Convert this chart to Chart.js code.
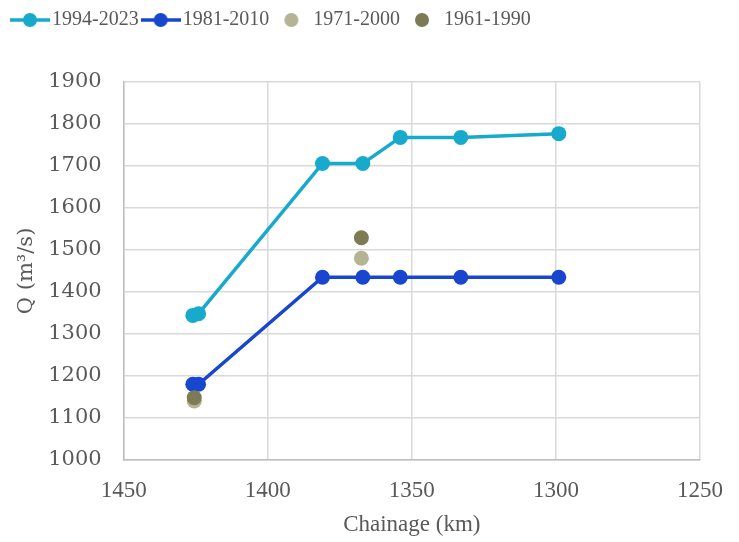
<!DOCTYPE html>
<html>
<head>
<meta charset="utf-8">
<script src="https://cdn.jsdelivr.net/npm/chart.js@4.4.1/dist/chart.umd.min.js"></script>
<style>
  html, body { margin: 0; padding: 0; background: #fff; }
  #wrap { width: 739px; height: 542px; }
</style>
</head>
<body>
<div id="wrap"><canvas id="chart"></canvas></div>
<script>
// series data (chainage km, discharge m3/s)
const seriesNames = ['1994-2023', '1981-2010', '1971-2000', '1961-1990']
const seriesColors = ['#17aacd', '#1846cf', '#b4b393', '#7c7b55']

const chain9423 = [1426, 1424, 1381, 1367, 1354, 1333, 1299]
const q9423 = [1344, 1348, 1706, 1706, 1768, 1768, 1777]

const chain8110 = [1426, 1424, 1381, 1367, 1354, 1333, 1299]
const q8110 = [1180, 1180, 1435, 1435, 1435, 1435, 1435]

const chain7100 = [1425.5, 1367.5]
const q7100 = [1140, 1480]

const chain6190 = [1425.5, 1367.5]
const q6190 = [1148, 1529]

const xTicks = [1450, 1400, 1350, 1300, 1250]
const yTicks = [1000, 1100, 1200, 1300, 1400, 1500, 1600, 1700, 1800, 1900]

const pts = (xs, ys) => xs.map((x, i) => ({ x: x, y: ys[i] }))

// legend icons: line + marker, or marker only
const legendIcon = (color, withLine) => {
  const c = document.createElement('canvas')
  c.width = 40
  c.height = 16
  const g = c.getContext('2d')
  if (withLine) {
    g.strokeStyle = color
    g.lineWidth = 3.5
    g.beginPath()
    g.moveTo(0, 8)
    g.lineTo(40, 8)
    g.stroke()
  }
  g.fillStyle = color
  g.beginPath()
  g.arc(20, 8, 7, 0, Math.PI * 2)
  g.fill()
  return c
}

const makeSet = (i, xs, ys, withLine) => ({
  label: seriesNames[i],
  data: pts(xs, ys),
  showLine: withLine,
  borderColor: seriesColors[i],
  backgroundColor: seriesColors[i],
  borderWidth: 3.5,
  pointRadius: 7.5,
  pointHoverRadius: 7.5,
  pointBorderWidth: 0,
  pointStyle: 'circle',
  order: 3 - i,
})

const gridColor = '#d9d9d9'
const textColor = '#595959'

// push the plot down below the legend
const legendGap = {
  id: 'legendGap',
  beforeInit (chart) {
    const fit = chart.legend.fit
    chart.legend.fit = function () {
      fit.bind(chart.legend)()
      this.height += 42
    }
  },
}

// edge labels may hang outside the plot; tick padding is only counted once
const tightFit = (axis) => {
  axis.paddingLeft = 0
  axis.paddingRight = 0
  axis.paddingTop = 0
  axis.paddingBottom = 0
  const pad = axis.options.ticks.padding
  if (axis.isHorizontal()) axis.height -= pad
  else axis.width -= pad
}

// eslint-disable-next-line no-unused-vars
const chart = new Chart(document.getElementById('chart'), {
  type: 'scatter',
  data: {
    datasets: [
      makeSet(0, chain9423, q9423, true),
      makeSet(1, chain8110, q8110, true),
      makeSet(2, chain7100, q7100, false),
      makeSet(3, chain6190, q6190, false),
    ],
  },
  plugins: [legendGap],
  options: {
    responsive: true,
    maintainAspectRatio: false,
    animation: false,
    layout: { padding: { top: 0, right: 39, bottom: 0, left: 8 } },
    plugins: {
      tooltip: { enabled: false },
      legend: {
        position: 'top',
        align: 'start',
        labels: {
          usePointStyle: true,
          pointStyleWidth: 24,
          padding: 10,
          color: textColor,
          font: { family: 'Liberation Serif', size: 20 },
          sort: (a, b) => a.datasetIndex - b.datasetIndex,
          generateLabels: (ch) => ch.data.datasets.map((ds, i) => ({
            text: ds.label,
            datasetIndex: i,
            fontColor: textColor,
            pointStyle: legendIcon(seriesColors[i], ds.showLine),
            lineWidth: 0,
            strokeStyle: 'transparent',
            fillStyle: seriesColors[i],
          })),
        },
      },
    },
    scales: {
      x: {
        type: 'linear',
        reverse: true,
        min: 1250,
        max: 1450,
        afterBuildTicks: (axis) => { axis.ticks = xTicks.map((v) => ({ value: v })) },
        afterFit: tightFit,
        grid: { color: gridColor, lineWidth: 1.5, drawTicks: false },
        border: { color: '#bfbfbf', width: 1.5 },
        ticks: {
          color: textColor,
          padding: 17,
          font: { family: 'Liberation Serif', size: 23 },
          callback: (v) => String(v),
        },
        title: {
          display: true,
          text: 'Chainage (km)',
          color: textColor,
          padding: { top: 7, bottom: 3 },
          font: { family: 'Liberation Serif', size: 23 },
        },
      },
      y: {
        min: 1000,
        max: 1900,
        afterBuildTicks: (axis) => { axis.ticks = yTicks.map((v) => ({ value: v })) },
        afterFit: tightFit,
        grid: { color: gridColor, lineWidth: 1.5, drawTicks: false },
        border: { color: '#bfbfbf', width: 1.5 },
        ticks: {
          color: textColor,
          padding: 22,
          font: { family: 'DejaVu Serif', size: 21 },
          callback: (v) => String(v),
        },
        title: {
          display: true,
          text: 'Q (m\u00b3/s)',
          color: textColor,
          padding: { top: 6, bottom: 9 },
          font: { family: 'DejaVu Serif', size: 21 },
        },
      },
    },
  },
})
</script>
</body>
</html>
